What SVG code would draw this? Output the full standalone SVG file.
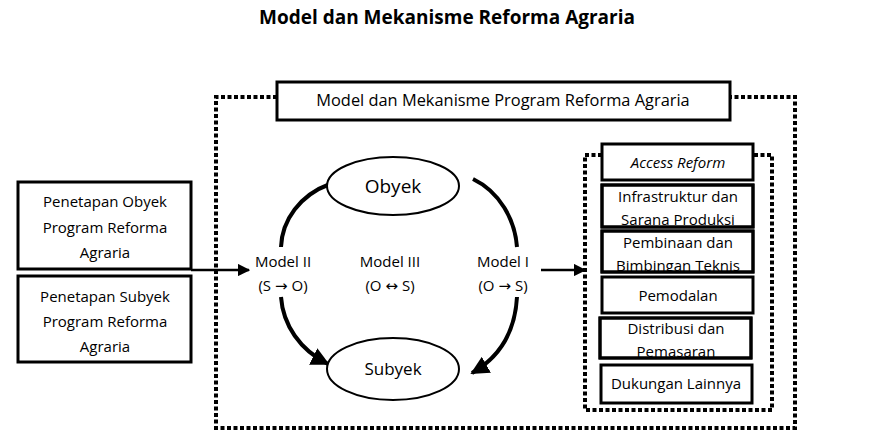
<svg xmlns="http://www.w3.org/2000/svg" width="879" height="445" viewBox="0 0 879 445">
<style>
text{font-family:"Open Sans","Liberation Sans",sans-serif;fill:#000}
.t{font-size:15px;text-anchor:middle}
.ar{font-family:"DejaVu Sans",sans-serif}
.box{fill:#fff;stroke:#000;stroke-width:3}
.dot{fill:none;stroke:#000;stroke-width:4;stroke-dasharray:4 2.5}
.arc{fill:none;stroke:#000;stroke-width:4}
.ln{fill:none;stroke:#000;stroke-width:2.5}
</style>
<defs>
<marker id="ah" viewBox="0 0 10 10" refX="9" refY="5" markerWidth="4.6" markerHeight="4.6" orient="auto" markerUnits="strokeWidth"><path d="M0,0L10,5L0,10z"/></marker>
<marker id="ah2" viewBox="0 0 10 10" refX="9" refY="5" markerWidth="5" markerHeight="5" orient="auto" markerUnits="strokeWidth"><path d="M0,0L10,5L0,10z"/></marker>
<clipPath id="c1"><rect x="602" y="185" width="151" height="42"/></clipPath>
<clipPath id="c2"><rect x="602" y="231" width="151" height="41"/></clipPath>
<clipPath id="c3"><rect x="600" y="318" width="151" height="40"/></clipPath>
</defs>
<rect width="879" height="445" fill="#fff"/>
<text x="447" y="24" style="font-size:19px;font-weight:bold;text-anchor:middle">Model dan Mekanisme Reforma Agraria</text>

<g id="outer-frame">
<path class="dot" d="M277,97H216V428H795V97H730"/>
</g>
<g id="program-title">
<rect class="box" x="277" y="82" width="453" height="38"/>
<text class="t" x="503" y="106" style="font-size:16.4px">Model dan Mekanisme Program Reforma Agraria</text>
</g>
<g id="access-frame">
<rect class="dot" x="585" y="155" width="187" height="255"/>
</g>

<g id="obyek-penetapan">
<rect class="box" x="18" y="182" width="173" height="87"/>
<text class="t" x="105" y="207">Penetapan Obyek</text>
<text class="t" x="105" y="233">Program Reforma</text>
<text class="t" x="105" y="258">Agraria</text>
</g>
<g id="subyek-penetapan">
<rect class="box" x="18" y="276" width="173" height="86"/>
<text class="t" x="105" y="302">Penetapan Subyek</text>
<text class="t" x="105" y="327">Program Reforma</text>
<text class="t" x="105" y="352">Agraria</text>
</g>

<g id="connectors">
<path class="ln" d="M191,270H249" marker-end="url(#ah2)"/>
<path class="ln" d="M541,270H585" marker-end="url(#ah2)"/>
<path class="arc" d="M330,184C300,195 282,220 281,247"/>
<path class="arc" d="M281,297C283,325 300,350 328,364" marker-end="url(#ah)"/>
<path class="arc" d="M473,179C500,192 515,220 517,247"/>
<path class="arc" d="M517,297C515,333 500,357 472,373" marker-end="url(#ah)"/>
</g>

<g id="obyek">
<ellipse cx="393" cy="186" rx="66" ry="29" fill="#fff" stroke="#000" stroke-width="2"/>
<text class="t" x="393" y="193" style="font-size:19px">Obyek</text>
</g>
<g id="subyek">
<ellipse cx="393" cy="369" rx="66" ry="31" fill="#fff" stroke="#000" stroke-width="2"/>
<text class="t" x="393" y="375" style="font-size:17px">Subyek</text>
</g>

<g id="model-2">
<text class="t" x="283" y="267">Model II</text>
<text class="t" x="283" y="291">(S <tspan class="ar">→</tspan> O)</text>
</g>
<g id="model-3">
<text class="t" x="390" y="267">Model III</text>
<text class="t" x="390" y="291">(O <tspan class="ar">↔</tspan> S)</text>
</g>
<g id="model-1">
<text class="t" x="503" y="267">Model I</text>
<text class="t" x="503" y="291">(O <tspan class="ar">→</tspan> S)</text>
</g>

<g id="access-reform">
<rect class="box" x="602" y="144" width="151" height="36"/>
<text class="t" x="678" y="168" style="font-style:italic">Access Reform</text>
</g>
<g id="infrastruktur">
<rect class="box" x="602" y="185" width="151" height="42"/>
<g clip-path="url(#c1)"><text class="t" x="678" y="202">Infrastruktur dan</text>
<text class="t" x="678" y="225">Sarana Produksi</text></g>
<rect x="602" y="185" width="151" height="42" fill="none" stroke="#000" stroke-width="3"/>
</g>
<g id="pembinaan">
<rect class="box" x="602" y="231" width="151" height="41"/>
<g clip-path="url(#c2)"><text class="t" x="678" y="248">Pembinaan dan</text>
<text class="t" x="678" y="271">Bimbingan Teknis</text></g>
<rect x="602" y="231" width="151" height="41" fill="none" stroke="#000" stroke-width="3"/>
</g>
<g id="pemodalan">
<rect class="box" x="602" y="277" width="151" height="36"/>
<text class="t" x="678" y="301">Pemodalan</text>
</g>
<g id="distribusi">
<rect class="box" x="600" y="318" width="151" height="40"/>
<g clip-path="url(#c3)"><text class="t" x="676" y="334">Distribusi dan</text>
<text class="t" x="676" y="357">Pemasaran</text></g>
<rect x="600" y="318" width="151" height="40" fill="none" stroke="#000" stroke-width="3"/>
</g>
<g id="dukungan">
<rect class="box" x="601" y="365" width="151" height="38"/>
<text class="t" x="676" y="389">Dukungan Lainnya</text>
</g>
</svg>
